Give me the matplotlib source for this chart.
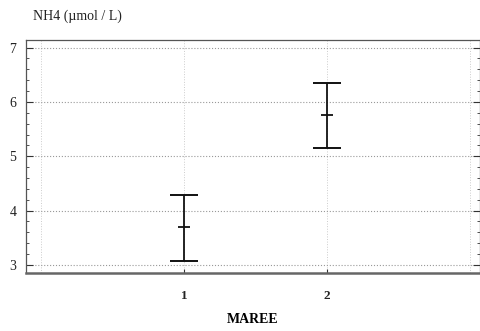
import matplotlib
matplotlib.use("Agg")
import matplotlib.pyplot as plt
from matplotlib.ticker import MultipleLocator

plt.rcParams['font.family'] = ['Liberation Serif', 'DejaVu Serif']

categories = [1, 2]
means = [3.69, 5.76]
upper = [4.29, 6.35]
lower = [3.08, 5.15]
xtick_labels = ['1', '2']
yticks = [3, 4, 5, 6, 7]

fig = plt.figure(figsize=(4.81, 3.31), dpi=100)
ax = fig.add_axes([26/481, 1 - 273/331, (480 - 26)/481, (273 - 40)/331])

ax.set_xlim(-0.105, 3.07)
ax.set_ylim(2.85, 7.14)

for x, m, lo, hi in zip(categories, means, lower, upper):
    ax.errorbar([x], [m], yerr=[[m - lo], [hi - m]], fmt='none', ecolor='#111111',
                elinewidth=1.3, capsize=10, capthick=1.4, zorder=3)
    ax.plot([x], [m], marker='_', markersize=8, markeredgewidth=1.3,
            color='#111111', zorder=4)

ax.set_xticks(categories)
ax.set_xticklabels(xtick_labels, fontsize=9.5, fontweight='bold')
ax.set_yticks(yticks)
ax.set_yticklabels([str(v) for v in yticks], fontsize=10)
ax.yaxis.set_minor_locator(MultipleLocator(0.2))
ax.tick_params(axis='y', which='both', direction='in', left=True, right=True, colors='#333333', pad=7)
ax.tick_params(axis='y', which='major', length=5)
ax.tick_params(axis='y', which='minor', length=2.5)
ax.tick_params(axis='x', direction='in', length=3, colors='#333333', pad=12)
for lab in ax.get_xticklabels() + ax.get_yticklabels():
    lab.set_color('#222222')

ax.grid(True, axis='y', linestyle=':', color='#999999', linewidth=0.8)
ax.grid(True, axis='x', linestyle=':', color='#cccccc', linewidth=0.7)
for xv in [0, 3]:
    ax.axvline(xv, linestyle=':', color='#cccccc', linewidth=0.7, zorder=0)

for s in ['left', 'top', 'right']:
    ax.spines[s].set_color('#555555')
    ax.spines[s].set_linewidth(0.9)
ax.spines['bottom'].set_color('#666666')
ax.spines['bottom'].set_linewidth(1.8)

ax.set_xlabel('MAREE', fontsize=10, fontweight='bold', labelpad=8)
fig.text(33/481, 1 - 16/331, 'NH4 (µmol / L)', fontsize=10, ha='left', va='center', color='#222222')

fig.savefig('out.png', dpi=100)
